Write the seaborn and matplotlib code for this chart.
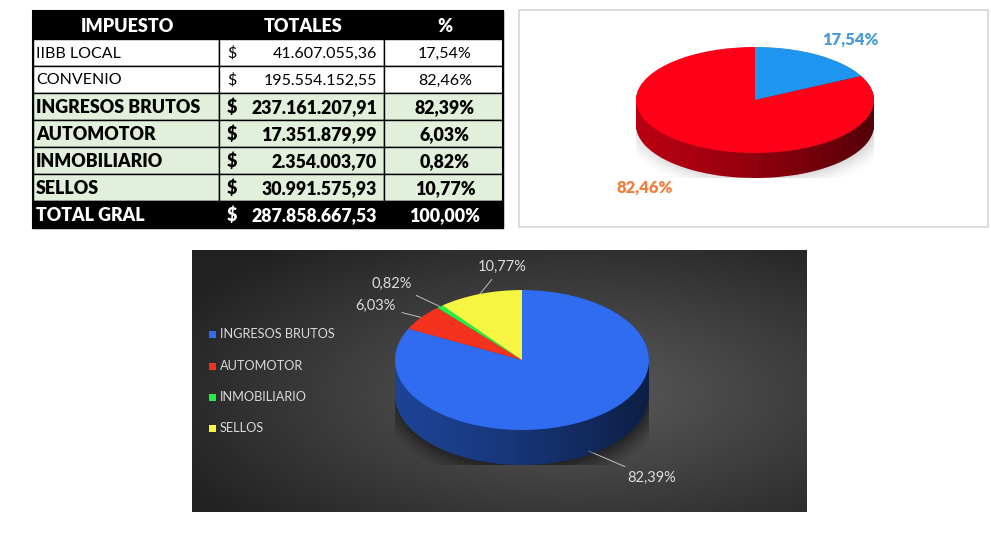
import numpy as np
import seaborn as sns
import matplotlib
matplotlib.use("Agg")
import matplotlib.pyplot as plt
from matplotlib.patches import Rectangle, Polygon

sns.set_theme(style="white")
plt.rcParams["font.family"] = ["Lato", "DejaVu Sans"]

# table data
impuestos = ["IIBB LOCAL", "CONVENIO", "INGRESOS BRUTOS", "AUTOMOTOR",
             "INMOBILIARIO", "SELLOS", "TOTAL GRAL"]
totales = ["41.607.055,36", "195.554.152,55", "237.161.207,91", "17.351.879,99",
           "2.354.003,70", "30.991.575,93", "287.858.667,53"]
porcentajes = ["17,54%", "82,46%", "82,39%", "6,03%", "0,82%", "10,77%", "100,00%"]
row_style = ["plain", "plain", "green", "green", "green", "green", "total"]

# pie 1: ingresos brutos split
iibb_labels = ["IIBB LOCAL", "CONVENIO"]
iibb_values = [17.54, 82.46]
iibb_text = ["17,54%", "82,46%"]

# pie 2: totals by tax
tax_labels = ["INGRESOS BRUTOS", "AUTOMOTOR", "INMOBILIARIO", "SELLOS"]
tax_values = [82.39, 6.03, 0.82, 10.77]
tax_text = ["82,39%", "6,03%", "0,82%", "10,77%"]

W, H = 991, 542
fig = plt.figure(figsize=(W / 100, H / 100), dpi=100)
fig.patch.set_facecolor("white")

base = fig.add_axes([0, 0, 1, 1])
base.set_xlim(0, W)
base.set_ylim(H, 0)
base.axis("off")

# ---- table ----
col_x = [33, 219, 384, 503]
top, head_h, row_h = 11, 28, 27
base.add_patch(Rectangle((col_x[0], top), col_x[3] - col_x[0], head_h,
                         facecolor="black", edgecolor="black", lw=1))
for txt, cx in zip(["IMPUESTO", "TOTALES", "%"], [127, 303, 445]):
    base.text(cx, top + head_h / 2 + 1, txt, color="white", fontsize=13,
              fontweight="heavy", ha="center", va="center")

fills = {"plain": "white", "green": "#e2efda", "total": "black"}
for i, (imp, tot, pct, st) in enumerate(zip(impuestos, totales, porcentajes, row_style)):
    y0 = top + head_h + i * row_h
    tcol = "white" if st == "total" else "black"
    fw = "normal" if st == "plain" else "heavy"
    fs = 11.5 if st == "plain" else 12.8
    for c in range(3):
        base.add_patch(Rectangle((col_x[c], y0), col_x[c + 1] - col_x[c], row_h,
                                 facecolor=fills[st], edgecolor="black", lw=1))
    yc = y0 + row_h / 2 + 1
    base.text(36, yc, imp, color=tcol, fontsize=fs, fontweight=fw, va="center")
    base.text(227, yc, "$", color=tcol, fontsize=fs, fontweight=fw, va="center")
    base.text(377, yc, tot, color=tcol, fontsize=fs, fontweight=fw, va="center", ha="right")
    base.text(445, yc, pct, color=tcol, fontsize=fs, fontweight=fw, va="center", ha="center")
base.add_patch(Rectangle((col_x[0], top), col_x[3] - col_x[0], head_h + 7 * row_h,
                         facecolor="none", edgecolor="black", lw=1.5))

# ---- top right panel ----
base.add_patch(Rectangle((519, 10), 469, 217, facecolor="white", edgecolor="#d6d6d6", lw=1.2))

# ---- dark panel with radial gradient ----
gx, gy = np.meshgrid(np.linspace(0, 1, 300), np.linspace(0, 1, 150))
dist = np.sqrt(((gx - 0.62) / 0.9) ** 2 + ((gy - 0.55) / 0.9) ** 2)
shade = np.clip(0.36 - 0.28 * dist, 0.13, 0.36)
base.imshow(np.dstack([shade] * 3), extent=(192, 807, 512, 250), aspect="auto", zorder=1)
base.set_xlim(0, W)
base.set_ylim(H, 0)


def pie_axes(cx, cy, rx, ry, depth):
    ax = fig.add_axes([(cx - rx) / W, (H - cy - ry - depth) / H, 2 * rx / W, (2 * ry + depth) / H])
    ax.set_zorder(3)
    return ax, depth / ry


def darker(col, f):
    rgb = np.array(matplotlib.colors.to_rgb(col))
    return tuple(rgb * f)


def pie3d(ax, values, colors, side_f, d, shadow_alpha=0.35):
    # soft shadow
    for k, a in enumerate(np.linspace(0.03, 0.01, 6)):
        ax.add_patch(matplotlib.patches.Ellipse((0.02, -d - 0.02), 2.0 + 0.06 * k, 2.0 + 0.1 * k,
                                                facecolor="black", alpha=a * shadow_alpha * 10,
                                                lw=0, zorder=0))
    n = 30
    for k in range(n):
        off = -d * (1 - k / n)
        ax.pie(values, colors=[darker(c, side_f) for c in colors], startangle=90,
               counterclock=False, center=(0, off), radius=1,
               wedgeprops=dict(linewidth=0))
    # horizontal shading on side wall
    t1 = np.linspace(0, np.pi, 100)
    t2 = np.linspace(np.pi, 2 * np.pi, 100)
    outline = np.vstack([np.c_[np.cos(t1), np.sin(t1)], np.c_[np.cos(t2), np.sin(t2) - d]])
    clip = Polygon(outline, closed=True, transform=ax.transData, facecolor="none", lw=0)
    ax.add_patch(clip)
    grad = np.linspace(0, 1, 200)[None, :] ** 1.3
    rgba = np.zeros((1, 200, 4))
    rgba[..., 3] = grad * 0.55
    im = ax.imshow(rgba, extent=(-1, 1, -1 - d, 1), aspect="auto", zorder=5)
    im.set_clip_path(clip)
    wedges, _ = ax.pie(values, colors=colors, startangle=90, counterclock=False,
                       center=(0, 0), radius=1, wedgeprops=dict(linewidth=0))
    for w in wedges:
        w.set_zorder(6)
    ax.set_aspect("auto")
    ax.set_xlim(-1, 1)
    ax.set_ylim(-1 - d, 1)
    ax.axis("off")
    return wedges


# pie 1
ax1, d1 = pie_axes(755, 100, 119, 53, 25)
pie3d(ax1, iibb_values, ["#1e96f0", "#ff0019"], 0.72, d1, shadow_alpha=0.12)
fig.text(850 / W, 1 - 40 / H, iibb_text[0], color="#4a9bd9", fontsize=12,
         fontweight="heavy", ha="center", va="center")
fig.text(645 / W, 1 - 188 / H, iibb_text[1], color="#f07f3c", fontsize=12,
         fontweight="heavy", ha="center", va="center")

# pie 2
ax2, d2 = pie_axes(522, 360, 127, 70, 35)
tax_colors = ["#2f6cf0", "#f5321e", "#22ee44", "#f5f542"]
pie3d(ax2, tax_values, tax_colors, 0.62, d2, shadow_alpha=0.5)

label_pos = [(627, 478), (396, 306), (412, 284), (502, 267)]
cum = np.cumsum([0] + tax_values)
for i, (txt, (lx, ly)) in enumerate(zip(tax_text, label_pos)):
    mid = np.deg2rad(90 - 3.6 * (cum[i] + cum[i + 1]) / 2)
    px, py = np.cos(mid), np.sin(mid)
    if py < 0:
        py -= d2 * 0.9
    ha = "left" if i == 0 else "center"
    ax2.annotate(txt, xy=(px, py), xytext=(lx, H - ly), textcoords="figure pixels",
                 color="#dcdcdc", fontsize=10.5, ha="right" if i in (1, 2) else ha,
                 va="center", annotation_clip=False,
                 arrowprops=dict(arrowstyle="-", color="#bfbfbf", lw=0.7,
                                 shrinkA=2, shrinkB=0))

# legend
leg_y = [334, 366, 397, 428]
for lab, col, ly in zip(tax_labels, tax_colors, leg_y):
    base.add_patch(Rectangle((209, ly - 3.5), 7, 7, facecolor=col, lw=0, zorder=4))
    base.text(220, ly, lab, color="#d9d9d9", fontsize=9.2, va="center", zorder=4)

fig.savefig("out.png", dpi=100, facecolor="white")
